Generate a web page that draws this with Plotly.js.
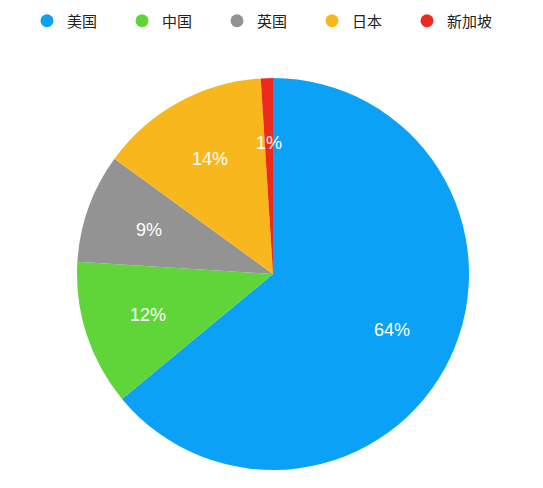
<!DOCTYPE html>
<html>
<head>
<meta charset="utf-8">
<script src="https://cdn.plot.ly/plotly-3.0.1.min.js"></script>
<style>
  html, body { margin: 0; padding: 0; background: #fff; }
  #myDiv { width: 543px; height: 488px; }
</style>
</head>
<body>
<div id="myDiv"></div>
<script>
// countries and their share
var countries = ['美国', '中国', '英国', '日本', '新加坡'];
var shares = [64, 12, 9, 14, 1];
var colors = ['#0AA1F6', '#5FD53A', '#939393', '#F9B71E', '#EE2A1E'];

var fontFamily = '"Helvetica Neue", "Liberation Sans", "Noto Sans CJK SC", sans-serif';

// pie placement in pixels
var W = 543, H = 488;
var cx = 273, cy = 274, r = 196;
var pieX = [(cx - r) / W, (cx + r) / W];
var pieY = [(H - cy - r) / H, (H - cy + r) / H];

function drawPieChart(){
    var pie = {
        type: 'pie',
        labels: countries,
        values: shares,
        sort: false,
        direction: 'clockwise',
        rotation: 0,
        domain: { x: pieX, y: pieY },
        marker: { colors: colors, line: { width: 0 } },
        textinfo: 'none',
        showlegend: false,
        hoverinfo: 'none'
    };

    // dummy traces just so the legend gets round markers
    var legendTraces = countries.map(function(c, i){
        return {
            type: 'scatter',
            mode: 'markers',
            x: [null],
            y: [null],
            name: c,
            marker: { color: colors[i], size: 13, symbol: 'circle' },
            hoverinfo: 'none'
        };
    });

    // percent labels at ~2/3 radius along each slice's mid angle
    var total = shares.reduce(function(a, b){ return a + b; }, 0);
    var acc = 0;
    var annotations = shares.map(function(v){
        var mid = (acc + v / 2) / total * 2 * Math.PI;
        acc += v;
        var px = cx + Math.sin(mid) * r * 0.67;
        var py = cy - Math.cos(mid) * r * 0.67;
        return {
            xref: 'paper', yref: 'paper',
            x: px / W, y: 1 - py / H,
            xanchor: 'center', yanchor: 'middle',
            text: v + '%',
            showarrow: false,
            font: { color: '#ffffff', size: 18, family: fontFamily }
        };
    });

    var data = [pie].concat(legendTraces);

    var layout = {
        width: W,
        height: H,
        margin: { l: 0, r: 0, t: 0, b: 0 },
        paper_bgcolor: '#ffffff',
        plot_bgcolor: '#ffffff',
        font: { family: fontFamily, color: '#222222', size: 15 },
        xaxis: { visible: false },
        yaxis: { visible: false },
        annotations: annotations,
        showlegend: true,
        legend: {
            orientation: 'h',
            x: 27 / W,
            xanchor: 'left',
            y: 1 - 21 / H,
            yanchor: 'middle',
            entrywidth: 50,
            entrywidthmode: 'pixels',
            font: { size: 15, color: '#222222', family: fontFamily }
        }
    };

    Plotly.newPlot('myDiv', data, layout, { displayModeBar: false, staticPlot: true });
}

drawPieChart();
</script>
</body>
</html>
